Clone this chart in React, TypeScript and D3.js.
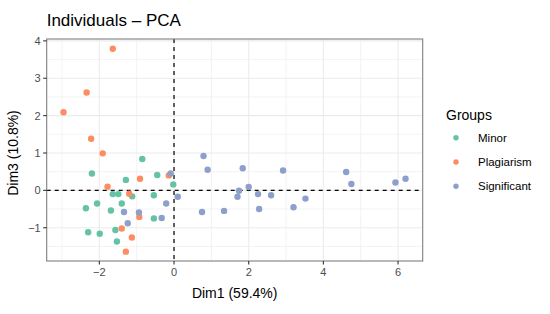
import * as d3 from "d3";

type Pt = [number, number];

const minorPts: Pt[] = [
  [-0.85, 0.84], [-2.2, 0.45], [-1.29, 0.28], [-0.45, 0.41], [-0.02, 0.16],
  [-1.64, -0.1], [-1.49, -0.1], [-1.12, -0.16], [-0.54, -0.13], [-2.06, -0.35],
  [-1.4, -0.35], [-2.36, -0.48], [-1.69, -0.54], [-0.54, -0.75], [-1.57, -1.06],
  [-2.3, -1.12], [-1.99, -1.16], [-1.53, -1.37],
];
const plagiarismPts: Pt[] = [
  [-1.64, 3.79], [-2.34, 2.62], [-2.96, 2.09], [-2.22, 1.38], [-1.91, 0.99],
  [-0.91, 0.31], [-0.14, 0.4], [-1.78, 0.1], [-1.2, -0.09], [-0.93, -0.71],
  [-1.4, -1.02], [-1.13, -1.26], [-1.29, -1.64],
];
const significantPts: Pt[] = [
  [-0.09, 0.45], [0.1, -0.17], [-0.21, -0.35], [-1.34, -0.58], [-0.94, -0.59],
  [-0.33, -0.74], [-1.24, -0.88], [0.79, 0.92], [0.9, 0.55], [1.84, 0.59],
  [2.92, 0.53], [1.74, -0.01], [1.7, -0.17], [2.0, 0.09], [2.25, -0.1],
  [2.6, -0.13], [0.75, -0.58], [1.34, -0.55], [2.28, -0.5], [4.61, 0.49],
  [4.75, 0.17], [5.93, 0.21], [6.2, 0.31], [3.52, -0.22], [3.2, -0.45],
];

const groups = ["Minor", "Plagiarism", "Significant"];
const groupColors = ["#66C2A5", "#FC8D62", "#8DA0CB"];
const xTicks = [-2, 0, 2, 4, 6];
const xMinor = [-3, -1, 1, 3, 5];
const yTicks = [-1, 0, 1, 2, 3, 4];
const yMinor = [-1.5, -0.5, 0.5, 1.5, 2.5, 3.5];

const font = "'Liberation Sans', Arial, sans-serif";

export default function App() {
  const left = 46.7;
  const right = 422.7;
  const top = 39;
  const bottom = 261;

  const x = d3.scaleLinear().domain([-3.41, 6.66]).range([left, right]);
  const y = d3.scaleLinear().domain([-1.89, 4.05]).range([bottom, top]);
  const color = d3.scaleOrdinal<string, string>().domain(groups).range(groupColors);

  const series: [string, Pt[]][] = [
    ["Minor", minorPts],
    ["Plagiarism", plagiarismPts],
    ["Significant", significantPts],
  ];
  const fmt = (v: number) => (v < 0 ? "\u2212" + Math.abs(v) : String(v));

  return (
    <svg
      width={550}
      height={314}
      style={{ position: "absolute", left: 0, top: 0, fontFamily: font }}
    >
      <rect width={550} height={314} fill="white" />
      {/* grid */}
      {xMinor.map((v) => (
        <line key={"xm" + v} x1={x(v)} x2={x(v)} y1={top} y2={bottom} stroke="#EBEBEB" strokeWidth={0.6} />
      ))}
      {yMinor.map((v) => (
        <line key={"ym" + v} x1={left} x2={right} y1={y(v)} y2={y(v)} stroke="#EBEBEB" strokeWidth={0.6} />
      ))}
      {xTicks.map((v) => (
        <line key={"xg" + v} x1={x(v)} x2={x(v)} y1={top} y2={bottom} stroke="#EBEBEB" strokeWidth={1.1} />
      ))}
      {yTicks.map((v) => (
        <line key={"yg" + v} x1={left} x2={right} y1={y(v)} y2={y(v)} stroke="#EBEBEB" strokeWidth={1.1} />
      ))}
      {/* reference lines */}
      <line x1={x(0)} x2={x(0)} y1={top} y2={bottom} stroke="black" strokeWidth={1.2} strokeDasharray="4,4" />
      <line x1={left} x2={right} y1={y(0)} y2={y(0)} stroke="black" strokeWidth={1.2} strokeDasharray="4,4" />
      {/* points */}
      {series.map(([g, pts]) =>
        pts.map((p, i) => (
          <circle key={g + i} cx={x(p[0])} cy={y(p[1])} r={3.2} fill={color(g)} />
        ))
      )}
      {/* panel border */}
      <rect x={left} y={top} width={right - left} height={bottom - top} fill="none" stroke="#7F7F7F" strokeWidth={1.1} />
      {/* axes */}
      {xTicks.map((v) => (
        <g key={"xt" + v}>
          <line x1={x(v)} x2={x(v)} y1={bottom} y2={bottom + 3.5} stroke="#333" strokeWidth={1.1} />
          <text x={x(v)} y={bottom + 15} textAnchor="middle" fontSize={11} fill="#4D4D4D">
            {fmt(v)}
          </text>
        </g>
      ))}
      {yTicks.map((v) => (
        <g key={"yt" + v}>
          <line x1={left - 3.5} x2={left} y1={y(v)} y2={y(v)} stroke="#333" strokeWidth={1.1} />
          <text x={left - 6} y={y(v) + 4} textAnchor="end" fontSize={11} fill="#4D4D4D">
            {fmt(v)}
          </text>
        </g>
      ))}
      <text x={(left + right) / 2} y={298} textAnchor="middle" fontSize={14} fill="black">
        Dim1 (59.4%)
      </text>
      <text
        transform={`translate(17.5, 153) rotate(-90)`}
        textAnchor="middle"
        fontSize={14}
        fill="black"
      >
        Dim3 (10.8%)
      </text>
      <text x={left} y={26} fontSize={17} fill="black">
        Individuals – PCA
      </text>
      {/* legend */}
      <text x={446} y={120} fontSize={14} fill="black">
        Groups
      </text>
      {groups.map((g, i) => (
        <g key={"lg" + g} transform={`translate(0, ${137.7 + i * 24.3})`}>
          <circle cx={456} cy={0} r={2.7} fill={color(g)} />
          <text x={478} y={4} fontSize={11.5} fill="black">
            {g}
          </text>
        </g>
      ))}
    </svg>
  );
}
